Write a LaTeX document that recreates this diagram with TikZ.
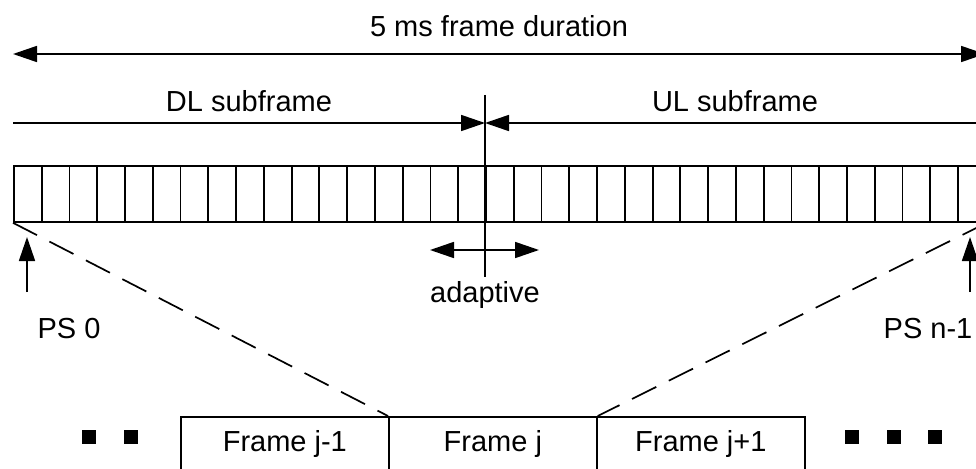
\documentclass[tikz,border=0pt]{standalone}
\usepackage{fontspec}
\setmainfont{Liberation Sans}
\usetikzlibrary{arrows.meta,positioning}
\newcommand{\lblfont}{\fontsize{29}{34}\selectfont}
\tikzstyle{dim} = [draw, line width=1.7pt, {Triangle[length=24pt,width=16pt]}-{Triangle[length=24pt,width=16pt]}]
\tikzstyle{tip} = [draw, line width=1.7pt, -{Triangle[length=24pt,width=16pt]}]
\tikzstyle{slot} = [draw, line width=1.8pt, inner sep=0pt, minimum width=27.77pt, minimum height=56pt, anchor=north west]
\tikzstyle{frame} = [draw, line width=1.7pt, inner sep=0pt, minimum width=208pt, minimum height=54pt, anchor=north west, font=\lblfont]
\tikzstyle{lbl} = [inner sep=0pt, font=\lblfont]
\tikzstyle{dashline} = [draw, line width=1.7pt, dash pattern=on 27pt off 14pt]

\begin{document}
\begin{tikzpicture}[x=1pt, y=-1pt]
    \useasboundingbox (0,0) rectangle (976,468);

    % 5 ms frame
    \coordinate (durL) at (13,54);
    \coordinate (durR) at (985,54);
    \draw[dim] (durL) -- (durR);
    \node[lbl] (dur) at (499,26) {5 ms frame duration};

    % DL / UL split
    \coordinate (splitT) at (485,95);
    \coordinate (splitB) at (485,277);
    \coordinate (split) at (485,123);
    \coordinate (dlL) at (13,123);
    \coordinate (ulR) at (985,123);
    \draw[line width=1.7pt] (splitT) -- (splitB);
    \draw[tip] (dlL) -- (split);
    \draw[tip] (ulR) -- (split);
    \node[lbl] (dl) at (249,101) {DL subframe};
    \node[lbl] (ul) at (735,101) {UL subframe};

    % physical slots
    \foreach \i in {0,...,34}
    {
        \node[slot] (s\i) at (13+\i*27.77,165) {};
    };

    % adaptive boundary
    \coordinate (adL) at (430,250);
    \coordinate (adR) at (539,250);
    \draw[dim] (adL) -- (adR);
    \node[lbl] (adapt) at (485,295) {adaptive};

    % PS markers
    \coordinate (ps0b) at (27,292);
    \coordinate (ps0t) at (27,237);
    \draw[tip] (ps0b) -- (ps0t);
    \node[lbl] (ps0) at (69,329) {PS 0};
    \coordinate (psnb) at (970,292);
    \coordinate (psnt) at (970,237);
    \draw[tip] (psnb) -- (psnt);
    \node[lbl] (psn) at (928,329) {PS n-1};

    % frames
    \node[frame] (fjm) at (180,416) {Frame j-1};
    \node[frame] (fj) at (388,416) {Frame j};
    \node[frame] (fjp) at (596,416) {Frame j+1};
    \draw[dashline] (s0.south west) -- (fj.north west);
    \draw[dashline] (s34.south east) -- (fj.north east);

    \foreach \x in {89,130.5,852,893.5,935}
    {
        \fill (\x-7,430) rectangle (\x+7,444);
    };
\end{tikzpicture}
\end{document}
